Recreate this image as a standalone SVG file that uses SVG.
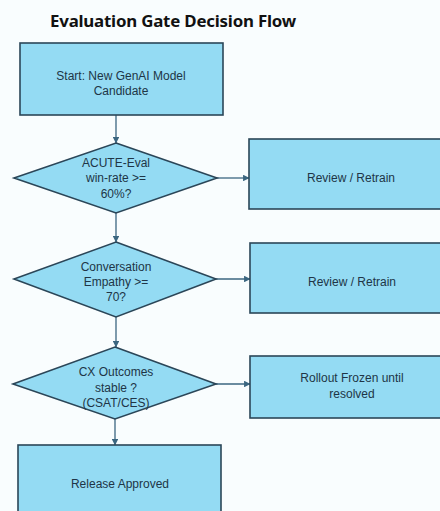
<svg xmlns="http://www.w3.org/2000/svg" width="440" height="511" viewBox="0 0 440 511">
<defs>
<style>
.bg{fill:#f9fdfe}
.n{fill:#94dbf3;stroke:#2b4658;stroke-width:1.6}
.t{font-family:"Liberation Sans","Noto Sans",sans-serif;font-size:12px;fill:#203546;text-anchor:middle}
.title{font-family:"Noto Sans","Liberation Sans",sans-serif;font-size:16.5px;font-weight:bold;fill:#111;letter-spacing:-0.2px}
.c{stroke:#3b6680;stroke-width:1.3;fill:none;marker-end:url(#ah)}
</style>
<marker id="ah" viewBox="0 0 6 6" refX="5.5" refY="3" markerWidth="5" markerHeight="5" orient="auto">
<path d="M0,0 L6,3 L0,6 z" fill="#3b6680"/>
</marker>
</defs>
<rect class="bg" width="440" height="511"/>
<text class="title" x="50" y="27" textLength="246" lengthAdjust="spacingAndGlyphs">Evaluation Gate Decision Flow</text>
<g id="connectors">
<line class="c" x1="116" y1="115" x2="116" y2="143"/>
<line class="c" x1="217" y1="178" x2="249" y2="178"/>
<line class="c" x1="116" y1="213" x2="116" y2="242"/>
<line class="c" x1="216" y1="279" x2="250" y2="279"/>
<line class="c" x1="116" y1="317" x2="116" y2="347"/>
<line class="c" x1="216" y1="384" x2="250" y2="384"/>
<line class="c" x1="115" y1="419" x2="115" y2="445"/>
</g>
<g id="start">
<rect class="n" x="20" y="43" width="203" height="72"/>
<text class="t" x="121" y="80">Start: New GenAI Model</text>
<text class="t" x="121" y="95">Candidate</text>
</g>
<g id="d1">
<polygon class="n" points="116,143 217,178 116,213 14,178"/>
<text class="t" x="116" y="167">ACUTE-Eval</text>
<text class="t" x="116" y="182">win-rate &gt;=</text>
<text class="t" x="116" y="198">60%?</text>
</g>
<g id="r1">
<rect class="n" x="249" y="139" width="200" height="70"/>
<text class="t" x="351" y="182">Review / Retrain</text>
</g>
<g id="d2">
<polygon class="n" points="116,242 216,279 116,317 14,279"/>
<text class="t" x="116" y="271">Conversation</text>
<text class="t" x="116" y="286">Empathy &gt;=</text>
<text class="t" x="116" y="301">70?</text>
</g>
<g id="r2">
<rect class="n" x="250" y="243" width="200" height="70"/>
<text class="t" x="352" y="286">Review / Retrain</text>
</g>
<g id="d3">
<polygon class="n" points="115,347 216,384 115,419 13,384"/>
<text class="t" x="116" y="376">CX Outcomes</text>
<text class="t" x="116" y="392">stable ?</text>
<text class="t" x="116" y="407">(CSAT/CES)</text>
</g>
<g id="r3">
<rect class="n" x="250" y="356" width="200" height="62"/>
<text class="t" x="352" y="382">Rollout Frozen until</text>
<text class="t" x="352" y="398">resolved</text>
</g>
<g id="release">
<rect class="n" x="18" y="445" width="203" height="80"/>
<text class="t" x="120" y="488">Release Approved</text>
</g>
</svg>
